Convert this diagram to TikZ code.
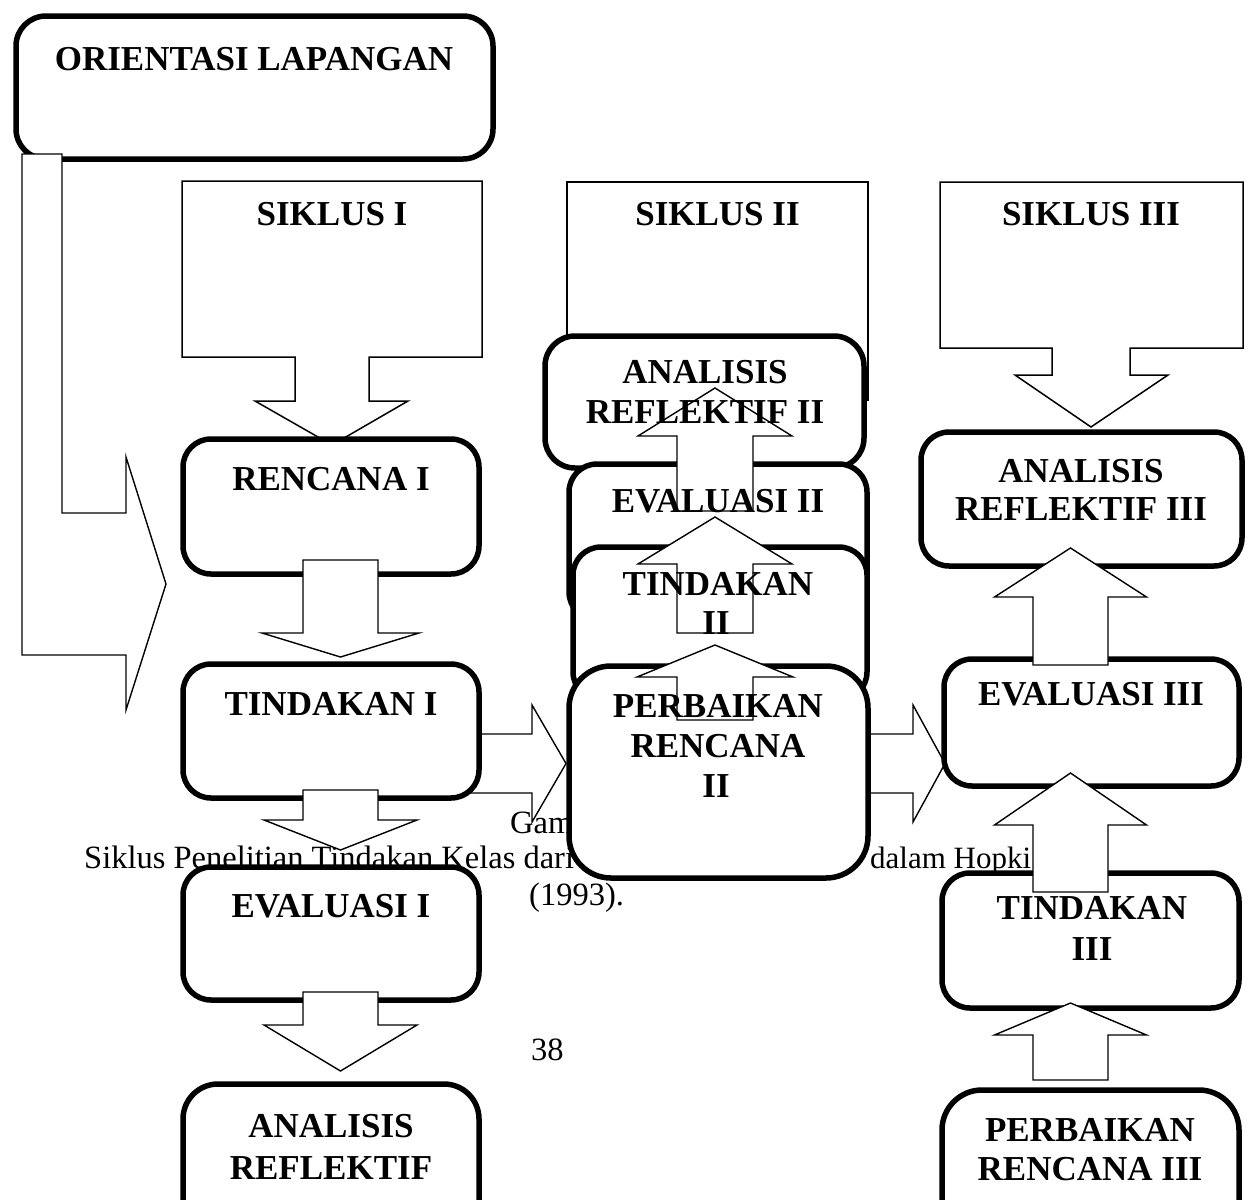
\documentclass[tikz,border=0pt]{standalone}
\usepackage{fontspec}
\setmainfont{Liberation Serif}
\tikzset{
  tbox/.style={draw, fill=white, line width=5.5pt, rounded corners=28pt, inner sep=0pt},
  arr/.style={draw, fill=white, line width=1.4pt, line join=miter},
  siklus/.style={draw, fill=white, line width=1.5pt, line join=miter},
  boxtext/.style={font=\fontsize{35}{40}\selectfont\bfseries, anchor=base, inner sep=0pt},
  captext/.style={font=\fontsize{32.5}{36}\selectfont, anchor=base west, inner sep=0pt},
}
% vertical block arrow: xc, tip y, head y, half head, half stem, end y
\newcommand{\blockV}[6]{\draw[arr] ({#1-#5},#6) -- ({#1-#5},#3) -- ({#1-#4},#3) -- (#1,#2) -- ({#1+#4},#3) -- ({#1+#5},#3) -- ({#1+#5},#6) -- cycle;}
% horizontal block arrow: yc, tip x, head x, half head, half stem, start x
\newcommand{\blockH}[6]{\draw[arr] (#6,{#1-#5}) -- (#3,{#1-#5}) -- (#3,{#1-#4}) -- (#2,#1) -- (#3,{#1+#4}) -- (#3,{#1+#5}) -- (#6,{#1+#5}) -- cycle;}
\begin{document}
\begin{tikzpicture}[x=1pt,y=-1pt]
\useasboundingbox (0,0) rectangle (1251,1200);
\clip (0,0) rectangle (1251,1200);
\fill[white] (0,0) rectangle (1251,1200);

% caption (lies underneath the diagram)
\node[captext] (capA) at (510,833) {Gam};
\node[captext] (capB) at (84,868) {Siklus Penelitian Tindakan Kelas dari};
\node[captext, font=\fontsize{31}{36}\selectfont] (capC) at (870,868) {dalam Hopki};
\node[captext] (capD) at (529,905) {(1993).};
\node[captext] (capE) at (531,1060) {38};

% SIKLUS callouts
\draw[siklus] (182,181) -- (482,181) -- (482,357) -- (369,357) -- (369,401) -- (408,401) -- (332,445) -- (255,401) -- (295,401) -- (295,357) -- (182,357) -- cycle;
\draw[siklus] (567,182) rectangle (868,400);
\draw[siklus] (940,182) -- (1243,182) -- (1243,348) -- (1130,348) -- (1130,375) -- (1168,375) -- (1091,427) -- (1015,375) -- (1052,375) -- (1052,348) -- (940,348) -- cycle;

% ORIENTASI
\node[tbox, rounded corners=30pt, minimum width=477pt, minimum height=143pt] (ori) at (254.5,87.5) {};
\draw[arr] (22,154) -- (62,154) -- (62,513) -- (126,513) -- (126,457) -- (166,584) -- (126,710) -- (126,655) -- (22,655) -- cycle;

% horizontal arrows
\blockH{763.5}{566}{532}{58.5}{29.5}{470}
\blockH{763.5}{945}{913}{58.5}{29.5}{860}

% left column
\node[tbox, minimum width=296pt, minimum height=135pt] (ren1) at (331,506.5) {};
\blockV{340.5}{657}{633}{78.5}{37.5}{560}
\node[tbox, minimum width=296pt, minimum height=134pt] (tin1) at (331,731) {};
\blockV{340.5}{850}{820}{76.5}{37.5}{790}
\node[tbox, minimum width=296pt, minimum height=133pt] (eva1) at (331,933.5) {};
\blockV{340.5}{1071}{1025}{76.5}{37.5}{992}
\node[tbox, rounded corners=35pt, minimum width=296pt, minimum height=176pt] (ana1) at (331,1172) {};

% middle column
\node[tbox, rounded corners=30pt, minimum width=319pt, minimum height=132pt] (ana2) at (704.5,402) {};
\node[tbox, minimum width=298pt, minimum height=156pt] (eva2) at (718,542) {};
\node[tbox, minimum width=294pt, minimum height=153pt] (tin2) at (720,623.5) {};
\node[tbox, rounded corners=42pt, minimum width=299pt, minimum height=212pt] (per2) at (718.5,772) {};
\blockV{715}{388}{436}{77}{38}{511}
\blockV{715}{517}{564}{77}{38}{633}
\blockV{715}{645}{677}{78}{38}{720}

% right column
\node[tbox, minimum width=321pt, minimum height=134pt] (ana3) at (1081.5,499) {};
\node[tbox, minimum width=295pt, minimum height=127pt] (eva3) at (1091.5,722.5) {};
\node[tbox, minimum width=297pt, minimum height=135pt] (tin3) at (1090.5,940.5) {};
\node[tbox, rounded corners=40pt, minimum width=297pt, minimum height=170pt] (per3) at (1090.5,1175) {};
\blockV{1070.5}{548}{597}{76}{37.5}{665}
\blockV{1070.5}{773}{825}{76}{37.5}{892}
\blockV{1070.5}{1003}{1035}{76}{37.5}{1080}

% texts
\node[boxtext] (tOri) at (254,70) {ORIENTASI LAPANGAN};
\node[boxtext] (tS1) at (332,225) {SIKLUS I};
\node[boxtext] (tS2) at (717.5,225) {SIKLUS II};
\node[boxtext] (tS3) at (1091,225) {SIKLUS III};
\node[boxtext] (tRen1) at (331,490) {RENCANA I};
\node[boxtext] (tTin1) at (331,715) {TINDAKAN I};
\node[boxtext] (tEva1) at (331,917) {EVALUASI I};
\node[boxtext] (tAna1a) at (331,1137) {ANALISIS};
\node[boxtext] (tAna1b) at (331,1179) {REFLEKTIF};
\node[boxtext] (tAna2a) at (705,383) {ANALISIS};
\node[boxtext] (tAna2b) at (705,423) {REFLEKTIF II};
\node[boxtext] (tEva2) at (718,512) {EVALUASI II};
\node[boxtext] (tTin2a) at (718,595) {TINDAKAN};
\node[boxtext] (tTin2b) at (716,634) {II};
\node[boxtext] (tPer2a) at (718,717) {PERBAIKAN};
\node[boxtext] (tPer2b) at (718,757) {RENCANA};
\node[boxtext] (tPer2c) at (716,797) {II};
\node[boxtext] (tAna3a) at (1081,482) {ANALISIS};
\node[boxtext] (tAna3b) at (1081,520) {REFLEKTIF III};
\node[boxtext] (tEva3) at (1091,705) {EVALUASI III};
\node[boxtext] (tTin3a) at (1092,919) {TINDAKAN};
\node[boxtext] (tTin3b) at (1092,960) {III};
\node[boxtext] (tPer3a) at (1090,1141) {PERBAIKAN};
\node[boxtext] (tPer3b) at (1090,1180) {RENCANA III};
\end{tikzpicture}
\end{document}
